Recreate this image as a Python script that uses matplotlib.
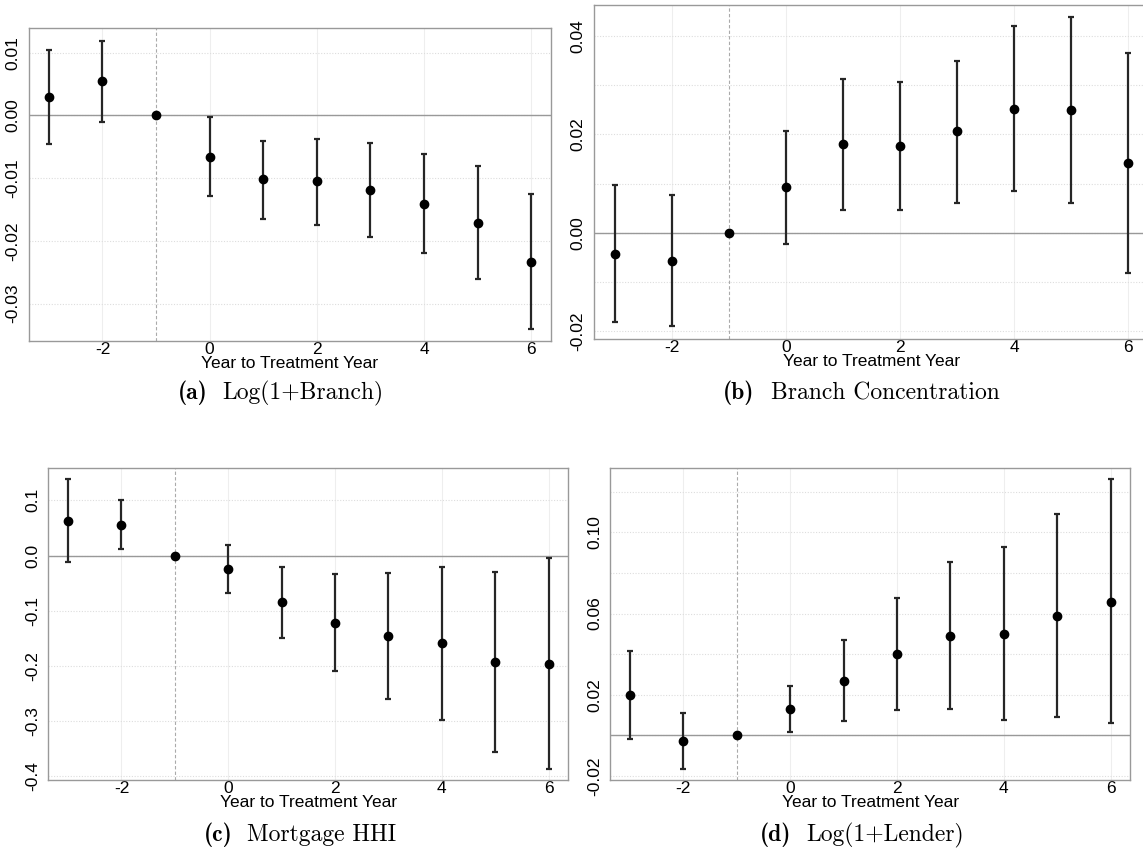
import numpy as np
import matplotlib
matplotlib.use('Agg')
import matplotlib.pyplot as plt
from matplotlib.ticker import FixedLocator, FuncFormatter

# event-study coefficients
years = [-3, -2, -1, 0, 1, 2, 3, 4, 5, 6]

branch_coef = [0.0030, 0.0055, 0.0, -0.0066, -0.0102, -0.0105, -0.0119, -0.0141, -0.0171, -0.0234]
branch_lo = [-0.0046, -0.0010, 0.0, -0.0128, -0.0165, -0.0174, -0.0193, -0.0220, -0.0260, -0.0341]
branch_hi = [0.0105, 0.0119, 0.0, -0.0003, -0.0040, -0.0037, -0.0044, -0.0062, -0.0080, -0.0125]

conc_coef = [-0.0043, -0.0057, 0.0, 0.0093, 0.0180, 0.0177, 0.0206, 0.0252, 0.0249, 0.0142]
conc_lo = [-0.0182, -0.0190, 0.0, -0.0022, 0.0046, 0.0047, 0.0061, 0.0084, 0.0060, -0.0082]
conc_hi = [0.0098, 0.0077, 0.0, 0.0207, 0.0313, 0.0307, 0.0350, 0.0421, 0.0438, 0.0366]

hhi_coef = [0.063, 0.056, 0.0, -0.025, -0.085, -0.122, -0.146, -0.159, -0.193, -0.197]
hhi_lo = [-0.012, 0.012, 0.0, -0.068, -0.150, -0.209, -0.259, -0.297, -0.355, -0.387]
hhi_hi = [0.138, 0.100, 0.0, 0.019, -0.020, -0.034, -0.032, -0.021, -0.030, -0.005]

lender_coef = [0.0196, -0.0030, 0.0, 0.0130, 0.0268, 0.0399, 0.0491, 0.0501, 0.0588, 0.0659]
lender_lo = [-0.0021, -0.0168, 0.0, 0.0015, 0.0069, 0.0125, 0.0130, 0.0076, 0.0089, 0.0059]
lender_hi = [0.0416, 0.0109, 0.0, 0.0245, 0.0467, 0.0677, 0.0855, 0.0929, 0.1090, 0.1262]

x_ticks = [-2, 0, 2, 4, 6]

W, H = 1143, 851

panels = [
    # coef, lo, hi, ylim, labelled ticks, extra grid ticks, decimals,
    # caption (label, text), axes rect, caption pixel pos (label x, text x, baseline y)
    (branch_coef, branch_lo, branch_hi, (-0.0359, 0.0139),
     [-0.03, -0.02, -0.01, 0.0, 0.01], [], 2,
     ('(a)', 'Log(1+Branch)'), [0.0254, 0.5997, 0.4567, 0.3671], (178, 222, 399)),
    (conc_coef, conc_lo, conc_hi, (-0.0216, 0.0463),
     [-0.02, 0.0, 0.02, 0.04], [-0.01, 0.01, 0.03], 2,
     ('(b)', 'Branch Concentration'), [0.5195, 0.6016, 0.4858, 0.3925], (723, 771, 399)),
    (hhi_coef, hhi_lo, hhi_hi, (-0.4066, 0.159),
     [-0.4, -0.3, -0.2, -0.1, 0.0, 0.1], [], 1,
     ('(c)', 'Mortgage HHI'), [0.0423, 0.0834, 0.455, 0.367], (204, 247, 841)),
    (lender_coef, lender_lo, lender_hi, (-0.0221, 0.1319),
     [-0.02, 0.02, 0.06, 0.10], [0.0, 0.04, 0.08, 0.12], 2,
     ('(d)', 'Log(1+Lender)'), [0.5339, 0.0834, 0.455, 0.367], (760, 806, 841)),
]

plt.rcParams['font.family'] = ['Liberation Sans', 'DejaVu Sans']
plt.rcParams['axes.unicode_minus'] = False

fig = plt.figure(figsize=(W / 100, H / 100), dpi=100)

for coef, lo, hi, ylim, yt, yminor, dec, caption, rect, cap_px in panels:
    ax = fig.add_axes(rect)
    coef = np.array(coef)
    err = np.array([coef - np.array(lo), np.array(hi) - coef])

    ax.axhline(0, color='#999999', lw=1.0, zorder=1)
    ax.axvline(-1, color='#aaaaaa', lw=0.8, ls=(0, (3, 2)), zorder=1)

    # reference year (-1) has no CI bar
    idx = [i for i, y in enumerate(years) if y != -1]
    ax.errorbar(np.array(years)[idx], coef[idx], yerr=err[:, idx], fmt='none',
                ecolor='#262626', elinewidth=1.6, capsize=2.2, capthick=1.6, zorder=2)
    ax.plot(years, coef, 'o', color='black', ms=6, zorder=3)

    ax.set_xlim(-3.37, 6.37)
    ax.set_ylim(*ylim)
    ax.xaxis.set_major_locator(FixedLocator(x_ticks))
    ax.yaxis.set_major_locator(FixedLocator(yt))
    ax.yaxis.set_minor_locator(FixedLocator(yminor))

    def fmt(v, pos, d=dec):
        s = f'{v:.{d}f}'
        return s.lstrip('-') if abs(v) < 1e-12 else s
    ax.yaxis.set_major_formatter(FuncFormatter(fmt))

    ax.grid(axis='x', which='major', color='#eeeeee', lw=0.8)
    ax.grid(axis='y', which='both', color='#dddddd', lw=0.8, ls=(0, (1, 1.5)))
    ax.set_axisbelow(True)

    ax.tick_params(axis='both', which='both', length=0, labelsize=12.5)
    ax.tick_params(axis='x', pad=1)
    ax.tick_params(axis='y', pad=6)
    for lab in ax.get_yticklabels():
        lab.set_rotation(90)
        lab.set_va('center')

    for sp in ax.spines.values():
        sp.set_color('#999999')
        sp.set_linewidth(1.0)

    ax.set_xlabel('Year to Treatment Year', fontsize=12.5, labelpad=-1)

    lx, tx, by = cap_px
    fig.text(lx / W, 1 - by / H, caption[0], ha='left', va='baseline',
             fontsize=17, family='cmb10')
    fig.text(tx / W, 1 - by / H, caption[1], ha='left', va='baseline',
             fontsize=17, family='cmr10')

fig.savefig('out.png', dpi=100)
